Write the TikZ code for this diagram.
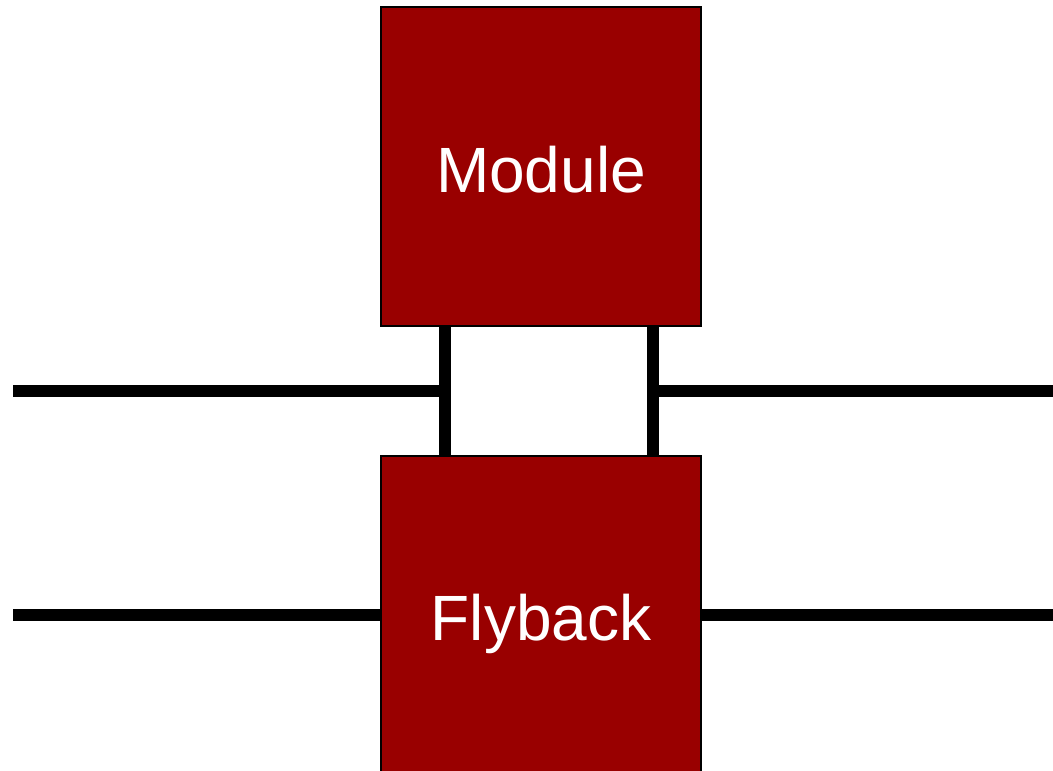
\documentclass[tikz,border=0pt]{standalone}
\usepackage{fontspec}
\setmainfont{Liberation Sans}
\definecolor{boxred}{HTML}{990000}
\tikzset{
  block/.style={draw=black, line width=2pt, fill=boxred, minimum width=320pt, minimum height=319pt, inner sep=0pt},
  label/.style={text=white, font=\fontsize{64}{70}\selectfont, anchor=base, inner sep=0pt},
  wire/.style={draw=black, line width=11.5pt, line cap=butt}
}
\begin{document}
\begin{tikzpicture}[x=1pt,y=-1pt]
\useasboundingbox (0,0) rectangle (1053,771);
\coordinate (l1) at (13,391);
\coordinate (r1) at (1053,391);
\coordinate (l2) at (13,615);
\coordinate (r2) at (1053,615);
\coordinate (j1) at (445,391);
\coordinate (j2) at (653,391);
\coordinate (mt1) at (445,326);
\coordinate (mt2) at (653,326);
\coordinate (fb1) at (445,455);
\coordinate (fb2) at (653,455);
\coordinate (fc) at (540.5,615);
\draw[wire] (mt1) -- (fb1);
\draw[wire] (mt2) -- (fb2);
\draw[wire] (l1) -- (j1);
\draw[wire] (j2) -- (r1);
\draw[wire] (l2) -- (fc);
\draw[wire] (fc) -- (r2);
\node[block] (mod) at (540.5,166) {};
\node[block] (fly) at (540.5,615) {};
\node[label] (modtxt) at (541,192) {Module};
\node[label] (flytxt) at (541,640) {Flyback};
\end{tikzpicture}
\end{document}
